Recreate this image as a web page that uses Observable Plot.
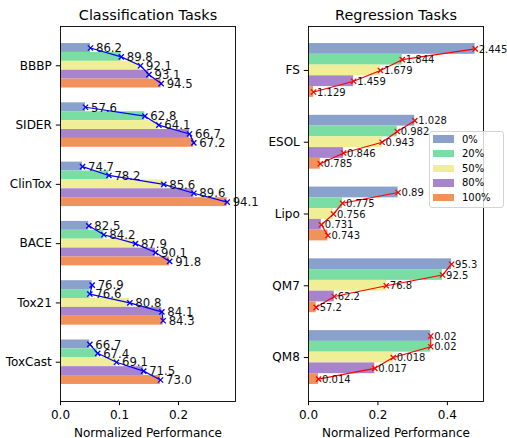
<!DOCTYPE html>
<html>
<head>
<meta charset="utf-8">
<script src="https://cdn.jsdelivr.net/npm/d3@7"></script>
<script src="https://cdn.jsdelivr.net/npm/@observablehq/plot@0.6"></script>
<style>
  body { margin: 0; background: #fff; }
  #wrap { position: relative; width: 507px; height: 438px; display: flex; font-family: "DejaVu Sans", sans-serif; }
  #wrap svg { overflow: visible; }
  #legend { position: absolute; left: 429px; top: 131px; width: 75px; height: 77px; box-sizing: border-box;
            border: 1px solid #d4d4d4; border-radius: 3px; background: rgba(255,255,255,0.8); }
  .row { position: absolute; left: 3px; height: 14px; display: flex; align-items: center; font-size: 10px; color: #000; }
  .sw { width: 21px; height: 7.5px; margin-right: 8px; }
</style>
</head>
<body>
<div id="wrap"><div id="left"></div><div id="right"></div><div id="legend"></div></div>
<script>
// ---- data ----
const levels = ["0%", "20%", "50%", "80%", "100%"];
const levelColors = ["#8aa1cb", "#7adda3", "#f0ee96", "#a884cc", "#f0925a"];

const clsTasks = ["BBBP", "SIDER", "ClinTox", "BACE", "Tox21", "ToxCast"];
const clsValues = [
  [0.0508, 0.103, 0.1356, 0.150, 0.1706],
  [0.0424, 0.143, 0.1667, 0.2186, 0.226],
  [0.0373, 0.082, 0.175, 0.226, 0.2825],
  [0.048, 0.0734, 0.127, 0.161, 0.185],
  [0.0537, 0.0497, 0.1175, 0.1718, 0.174],
  [0.0497, 0.063, 0.0949, 0.141, 0.1695]
];
const clsLabels = [
  ["86.2", "89.8", "92.1", "93.1", "94.5"],
  ["57.6", "62.8", "64.1", "66.7", "67.2"],
  ["74.7", "78.2", "85.6", "89.6", "94.1"],
  ["82.5", "84.2", "87.9", "90.1", "91.8"],
  ["76.9", "76.6", "80.8", "84.1", "84.3"],
  ["66.7", "67.4", "69.1", "71.5", "73.0"]
];
const clsTicks = [0, 0.1, 0.2];

const regTasks = ["FS", "ESOL", "Lipo", "QM7", "QM8"];
const regValues = [
  [0.48, 0.27, 0.207, 0.130, 0.0145],
  [0.306, 0.2555, 0.212, 0.101, 0.034],
  [0.258, 0.098, 0.072, 0.037, 0.056],
  [0.412, 0.386, 0.224, 0.074, 0.022],
  [0.352, 0.352, 0.244, 0.191, 0.029]
];
const regLabels = [
  ["2.445", "1.844", "1.679", "1.459", "1.129"],
  ["1.028", "0.982", "0.943", "0.846", "0.785"],
  ["0.89", "0.775", "0.756", "0.731", "0.743"],
  ["95.3", "92.5", "76.8", "62.2", "57.2"],
  ["0.02", "0.02", "0.018", "0.017", "0.014"]
];
const regTicks = [0, 0.2, 0.4];

// ---- build ----
const barW = 0.15;
function rowsOf(tasks, values, labels) {
  const rows = [];
  tasks.forEach((t, ti) => levels.forEach((l, si) => {
    rows.push({task: t, ti, level: l, value: values[ti][si], label: labels[ti][si],
               pos: ti + (si - (levels.length - 1) / 2) * barW});
  }));
  return rows;
}

function panel({tasks, values, labels, ticks, title, lineColor, width, marginLeft, marginRight, dx, labelSize}) {
  const rows = rowsOf(tasks, values, labels);
  const half = barW * levels.length / 2;
  const span = (tasks.length - 1) + 2 * half;
  const yDomain = [-half - 0.05 * span, tasks.length - 1 + half + 0.05 * span];
  const xMax = d3.max(rows, d => d.value) * 1.05;
  return Plot.plot({
    width, height: 438,
    marginLeft, marginRight, marginTop: 26, marginBottom: 37,
    style: {fontFamily: "DejaVu Sans", fontSize: "12px", background: "transparent", color: "black", overflow: "visible"},
    x: {domain: [0, xMax], ticks, tickFormat: ".1f", label: "Normalized Performance",
        labelAnchor: "center", labelArrow: "none", labelOffset: 35, tickSize: 4.2, tickPadding: 5},
    y: {domain: yDomain, reverse: true, ticks: d3.range(tasks.length), tickFormat: i => tasks[i],
        label: null, tickSize: 4.2, tickPadding: 4.5},
    color: {domain: levels, range: levelColors},
    marks: [
      Plot.rect(rows, {x1: () => 0, x2: "value", y1: d => d.pos - barW / 2, y2: d => d.pos + barW / 2, fill: "level"}),
      Plot.line(rows, {x: "value", y: "pos", z: "task", stroke: lineColor, strokeWidth: 1.2}),
      Plot.dot(rows, {x: "value", y: "pos", symbol: "times", r: 2.5, stroke: lineColor, strokeWidth: 1.3}),
      Plot.text(rows, {x: "value", y: "pos", text: "label", dx, dy: 0.5, textAnchor: "start", fontSize: labelSize, fill: "#111"}),
      Plot.frame({stroke: "black", strokeWidth: 0.9}),
      Plot.text([title], {frameAnchor: "top", lineAnchor: "bottom", dy: -6.5, fontSize: 14.4, fill: "black"})
    ]
  });
}

document.getElementById("left").append(panel({
  tasks: clsTasks, values: clsValues, labels: clsLabels, ticks: clsTicks,
  title: "Classification Tasks", lineColor: "blue", width: 253, marginLeft: 60, marginRight: 18, dx: 5.5, labelSize: 11.7
}));
document.getElementById("right").append(panel({
  tasks: regTasks, values: regValues, labels: regLabels, ticks: regTicks,
  title: "Regression Tasks", lineColor: "red", width: 254, marginLeft: 55, marginRight: 24, dx: 3.5, labelSize: 10
}));

// legend
const leg = document.getElementById("legend");
levels.forEach((l, i) => {
  const r = document.createElement("div");
  r.className = "row";
  r.style.top = (0 + i * 14.65) + "px";
  const sw = document.createElement("div");
  sw.className = "sw";
  sw.style.background = levelColors[i];
  const tx = document.createElement("span");
  tx.textContent = l;
  r.append(sw, tx);
  leg.append(r);
});
</script>
</body>
</html>
